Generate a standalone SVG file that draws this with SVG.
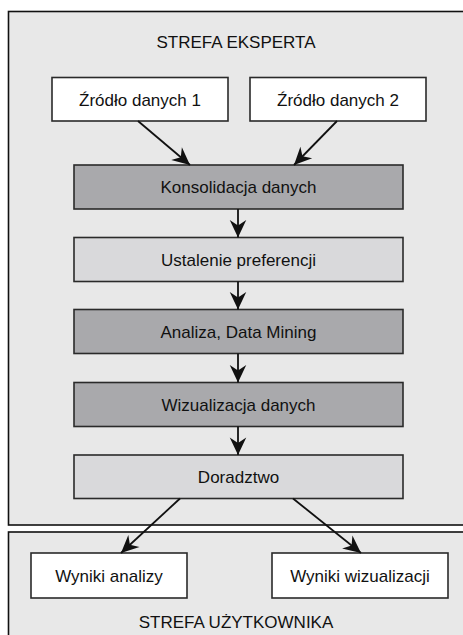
<svg xmlns="http://www.w3.org/2000/svg" width="463" height="635" viewBox="0 0 463 635">
<style>
  .frame { fill: #e8e8e8; stroke: #111; stroke-width: 1.6; }
  .box { stroke: #2a2a2a; stroke-width: 1.6; }
  .white { fill: #ffffff; }
  .dark { fill: #a9a9ac; }
  .light { fill: #d9d9db; }
  text { font-family: "Liberation Sans", Arial, sans-serif; font-size: 17px; fill: #111; text-anchor: middle; }
  .conn { stroke: #111; stroke-width: 1.8; fill: none; marker-end: url(#arrow); }
</style>
<defs>
  <marker id="arrow" markerUnits="userSpaceOnUse" markerWidth="22" markerHeight="22" viewBox="-18 -9 20 18" refX="0" refY="0" orient="auto">
    <path d="M0,0 L-16,-7.5 L-11,0 L-16,7.5 Z" fill="#111"/>
  </marker>
</defs>
<rect width="463" height="635" fill="#ffffff"/>
<g id="strefa-eksperta">
  <rect class="frame" x="8.5" y="11.5" width="470" height="513.5"/>
  <text x="236" y="48">STREFA EKSPERTA</text>
</g>
<g id="strefa-uzytkownika">
  <rect class="frame" x="8.5" y="532" width="470" height="120"/>
  <text x="236" y="628">STREFA UŻYTKOWNIKA</text>
</g>
<g id="zrodlo1">
  <rect class="box white" x="52" y="77.5" width="176" height="43.5"/>
  <text x="140" y="105.5">Źródło danych 1</text>
</g>
<g id="zrodlo2">
  <rect class="box white" x="250" y="77.5" width="176" height="43.5"/>
  <text x="338" y="105.5">Źródło danych 2</text>
</g>
<g id="konsolidacja">
  <rect class="box dark" x="74" y="165" width="329" height="44"/>
  <text x="238.5" y="193">Konsolidacja danych</text>
</g>
<g id="ustalenie">
  <rect class="box light" x="74" y="237.5" width="329" height="44"/>
  <text x="238.5" y="265.5">Ustalenie preferencji</text>
</g>
<g id="analiza">
  <rect class="box dark" x="74" y="309.5" width="329" height="44"/>
  <text x="238.5" y="337.5">Analiza, Data Mining</text>
</g>
<g id="wizualizacja">
  <rect class="box dark" x="74" y="382.5" width="329" height="44"/>
  <text x="238.5" y="410.5">Wizualizacja danych</text>
</g>
<g id="doradztwo">
  <rect class="box light" x="74" y="455" width="329" height="43.5"/>
  <text x="238.5" y="482.5">Doradztwo</text>
</g>
<g id="wyniki-analizy">
  <rect class="box white" x="31" y="553" width="156" height="45"/>
  <text x="109" y="581.5">Wyniki analizy</text>
</g>
<g id="wyniki-wizualizacji">
  <rect class="box white" x="272" y="553" width="176" height="45"/>
  <text x="360" y="581.5">Wyniki wizualizacji</text>
</g>
<g id="connectors">
  <line class="conn" x1="138" y1="121" x2="190" y2="165"/>
  <line class="conn" x1="337" y1="121" x2="294" y2="165"/>
  <line class="conn" x1="238" y1="209" x2="238" y2="237.5"/>
  <line class="conn" x1="238" y1="281.5" x2="238" y2="309.5"/>
  <line class="conn" x1="238" y1="353.5" x2="238" y2="382.5"/>
  <line class="conn" x1="238" y1="426.5" x2="238" y2="455"/>
  <line class="conn" x1="180" y1="498.5" x2="121" y2="553"/>
  <line class="conn" x1="293" y1="498.5" x2="361" y2="553"/>
</g>
</svg>
